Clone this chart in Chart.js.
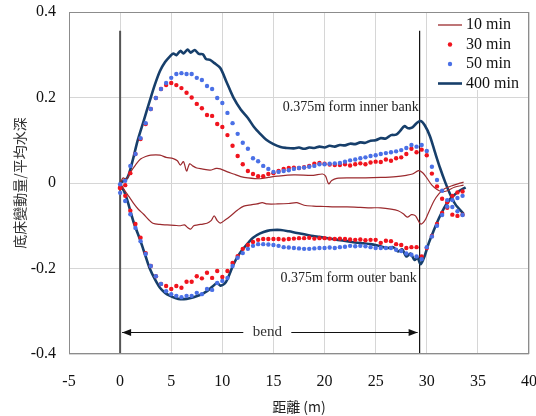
<!DOCTYPE html>
<html>
<head>
<meta charset="utf-8">
<script src="https://cdn.jsdelivr.net/npm/chart.js@4"></script>
<style>
  body { margin: 0; background: #fff; }
</style>
</head>
<body>
<canvas id="bedChart" width="536" height="416"></canvas>
<script>
// x positions of measured points (m)
const dotX = [0,0.5,1,1.5,2,2.5,3,3.5,4,4.5,5,5.5,6,6.5,7,7.5,8,8.5,9,9.5,
  10,10.5,11,11.5,12,12.5,13,13.5,14,14.5,15,15.5,16,16.5,17,17.5,18,18.5,19,19.5,
  20,20.5,21,21.5,22,22.5,23,23.5,24,24.5,25,25.5,26,26.5,27,27.5,28,28.5,29,29.5,
  30,30.5,31,31.5,32,32.5,33,33.5];

// 30 min
const min30Inner = [-0.012,-0.005,0.023,0.068,0.103,0.138,0.173,0.199,0.220,0.229,
  0.234,0.229,0.222,0.211,0.200,0.185,0.175,0.159,0.157,0.138,
  0.131,0.112,0.087,0.063,0.044,0.028,0.021,0.016,0.016,0.021,
  0.023,0.028,0.033,0.035,0.036,0.035,0.037,0.040,0.045,0.047,
  0.045,0.043,0.042,0.042,0.044,0.041,0.044,0.046,0.044,0.048,
  0.050,0.049,0.055,0.052,0.058,0.060,0.068,0.080,0.072,0.078,
  0.065,0.022,-0.008,-0.037,-0.058,-0.074,-0.077,-0.074];
const min30Outer = [-0.010,-0.030,-0.065,-0.096,-0.128,-0.164,-0.194,-0.218,-0.236,-0.241,
  -0.248,-0.241,-0.245,-0.231,-0.231,-0.218,-0.223,-0.210,-0.222,-0.206,
  -0.220,-0.206,-0.187,-0.171,-0.154,-0.145,-0.138,-0.133,-0.131,-0.131,
  -0.131,-0.131,-0.132,-0.131,-0.130,-0.129,-0.129,-0.128,-0.130,-0.129,
  -0.129,-0.130,-0.131,-0.130,-0.131,-0.132,-0.133,-0.132,-0.134,-0.133,
  -0.133,-0.140,-0.135,-0.136,-0.143,-0.145,-0.152,-0.150,-0.150,-0.172,
  -0.152,-0.124,-0.096,-0.070,-0.045,-0.030,-0.022,-0.020];

// 50 min
const min50Inner = [-0.003,0.005,0.040,0.068,0.105,0.140,0.173,0.199,0.220,0.234,
  0.246,0.255,0.257,0.255,0.255,0.246,0.241,0.227,0.220,0.199,
  0.187,0.164,0.140,0.115,0.094,0.080,0.058,0.051,0.040,0.033,
  0.026,0.026,0.028,0.030,0.033,0.035,0.036,0.038,0.040,0.044,
  0.044,0.045,0.046,0.047,0.050,0.053,0.055,0.058,0.060,0.063,
  0.065,0.068,0.070,0.072,0.074,0.077,0.082,0.089,0.085,0.089,
  0.075,0.038,0.007,-0.018,-0.040,-0.056,-0.066,-0.075];
const min50Outer = [-0.023,-0.042,-0.073,-0.105,-0.136,-0.166,-0.194,-0.218,-0.236,-0.253,
  -0.260,-0.264,-0.267,-0.264,-0.264,-0.257,-0.260,-0.248,-0.250,-0.234,
  -0.229,-0.222,-0.194,-0.175,-0.164,-0.154,-0.147,-0.143,-0.143,-0.144,
  -0.145,-0.147,-0.150,-0.151,-0.152,-0.153,-0.154,-0.154,-0.153,-0.152,
  -0.152,-0.151,-0.152,-0.150,-0.149,-0.147,-0.148,-0.147,-0.148,-0.150,
  -0.152,-0.152,-0.152,-0.152,-0.156,-0.159,-0.165,-0.168,-0.172,-0.178,
  -0.150,-0.125,-0.100,-0.075,-0.055,-0.040,-0.035,-0.030];

// 400 min
const min400InnerX = [0,0.7,1.2,1.7,2.3,2.9,3.4,3.9,4.4,4.9,5.2,5.5,5.9,6.2,6.6,6.9,7.3,7.7,8.1,8.4,
  8.8,9.2,9.8,10.4,11.1,11.8,12.5,13.1,13.7,14.3,15,15.7,16.3,17,17.5,18,18.5,19,19.5,20,
  20.5,21,21.5,22,22.5,23,23.5,24,24.5,25,25.5,26,26.5,27,27.4,27.8,28.2,28.6,29,29.4,
  29.8,30.3,30.8,31.3,31.8,32.3,32.8,33.6];
const min400Inner = [0,0.012,0.05,0.098,0.145,0.192,0.23,0.262,0.283,0.297,0.303,0.299,0.309,0.303,0.312,0.305,0.311,0.302,0.301,0.29,
  0.288,0.281,0.269,0.237,0.199,0.172,0.152,0.131,0.115,0.101,0.091,0.084,0.082,0.081,0.083,0.08,0.083,0.082,0.085,0.083,
  0.087,0.085,0.089,0.088,0.092,0.091,0.095,0.094,0.099,0.1,0.105,0.104,0.112,0.113,0.122,0.133,0.128,0.13,0.14,0.145,
  0.135,0.11,0.072,0.035,0.002,-0.027,-0.05,-0.072];
const min400OuterX = [0,0.4,0.7,1.3,2,2.5,2.9,3.4,3.9,4.4,4.9,5.4,5.9,6.5,7.2,7.8,8.5,9,9.5,9.8,
  10.2,10.5,11.1,11.6,12.1,12.6,13,13.7,14.4,15,15.7,16.5,17.3,18,18.9,19.5,20.5,21.3,22.2,23,
  23.8,24.5,25.3,26.2,26.7,27.2,27.6,28,28.4,28.8,29.1,29.4,29.8,30.2,30.7,31.2,31.7,32.2,32.6,33.2,33.8];
const min400Outer = [-0.003,-0.02,-0.04,-0.09,-0.136,-0.172,-0.2,-0.225,-0.245,-0.257,-0.264,-0.269,-0.272,-0.271,-0.267,-0.262,-0.253,-0.243,-0.234,-0.24,
  -0.236,-0.225,-0.19,-0.168,-0.152,-0.138,-0.128,-0.118,-0.112,-0.11,-0.11,-0.113,-0.117,-0.12,-0.124,-0.126,-0.13,-0.133,-0.136,-0.139,
  -0.141,-0.143,-0.147,-0.152,-0.15,-0.16,-0.155,-0.172,-0.165,-0.18,-0.175,-0.19,-0.17,-0.14,-0.11,-0.082,-0.058,-0.04,-0.03,-0.018,-0.01];

// 10 min
const min10InnerX = [0,0.3,0.6,1,1.5,2,2.5,3,3.9,4.5,5.2,5.6,5.9,6.2,6.5,6.8,7.1,7.5,8,8.8,
  9.4,9.8,10.5,11.1,11.8,12.5,13.7,14.5,15.4,17,18.9,19.8,20.1,20.4,20.7,21.2,22.5,24,25.5,27,
  28,28.6,29.2,29.6,30,30.5,31,31.5,32,32.7,33.6];
const min10Inner = [0,0.012,0.008,0.025,0.042,0.056,0.062,0.065,0.065,0.06,0.057,0.052,0.042,0.05,0.028,0.045,0.04,0.035,0.033,0.03,
  0.034,0.033,0.026,0.021,0.015,0.012,0.01,0.013,0.016,0.019,0.018,0.021,0.016,-0.002,0.006,0.011,0.012,0.012,0.013,0.015,
  0.018,0.021,0.029,0.024,0.012,-0.005,-0.015,-0.02,-0.018,-0.01,-0.005];
const min10OuterX = [0,0.3,0.7,1.3,1.8,2.3,2.8,3.2,3.9,4.6,5.3,5.9,6.3,6.6,6.9,7.2,7.6,8.1,8.5,8.9,
  9.2,9.5,9.8,10.3,10.8,11.5,12.1,12.8,13.4,13.9,14.4,15.4,16.5,17.3,18,18.9,20,21,22.2,23.5,
  24.5,25.5,26.5,27.2,27.7,28.1,28.5,28.9,29.4,29.8,30.1,30.7,31.2,31.7,32.5,33.6];
const min10Outer = [0,-0.012,-0.026,-0.047,-0.062,-0.073,-0.086,-0.094,-0.097,-0.098,-0.099,-0.1,-0.098,-0.104,-0.108,-0.1,-0.098,-0.096,-0.094,-0.088,
  -0.077,-0.088,-0.094,-0.086,-0.077,-0.063,-0.054,-0.051,-0.049,-0.046,-0.049,-0.049,-0.048,-0.046,-0.052,-0.054,-0.055,-0.056,-0.056,-0.057,
  -0.058,-0.058,-0.061,-0.065,-0.072,-0.08,-0.074,-0.077,-0.096,-0.088,-0.073,-0.042,-0.025,-0.014,-0.006,0.002];

const seriesNames = ["10 min", "30 min", "50 min", "400 min"];
const bendStart = 0, bendEnd = 29.3;

const SERIF = '"Liberation Serif", "Times New Roman", serif';
const CJK = '"Noto Sans CJK TC", "Noto Sans CJK SC", sans-serif';
const C10 = "#9b2a2e", C30 = "#f0141e", C50 = "#4a70e6", C400 = "#173f6b";

function pts(xs, ys) {
    return xs.map(function (x, i) { return { x: x, y: ys[i] }; });
}

function lineSet(data, color, width, order) {
    return { data: data, showLine: true, borderColor: color, borderWidth: width,
        pointRadius: 0, tension: 0.3, fill: false, order: order };
}
function dotSet(data, color, order) {
    return { data: data, showLine: false, backgroundColor: color, borderColor: color,
        borderWidth: 0, pointRadius: 2.2, order: order };
}

const extras = {
    id: "extras",
    afterDatasetsDraw(chart) {
        const ctx = chart.ctx, a = chart.chartArea;
        const xs = chart.scales.x, ys = chart.scales.y;
        ctx.save();
        // plot frame
        ctx.strokeStyle = "#8c8c8c";
        ctx.lineWidth = 1;
        ctx.strokeRect(a.left + 0.5, a.top + 0.5, a.right - a.left - 1, a.bottom - a.top - 1);

        // bank notes
        ctx.fillStyle = "#222";
        ctx.font = "14px " + SERIF;
        ctx.textBaseline = "middle";
        ctx.textAlign = "left";
        ctx.fillText("0.375m form inner bank", xs.getPixelForValue(15.9), ys.getPixelForValue(0.176));
        ctx.fillText("0.375m form outer bank", xs.getPixelForValue(15.7), ys.getPixelForValue(-0.223));

        // bend arrow
        const by = Math.round(ys.getPixelForValue(-0.349)) + 0.5;
        const bx1 = xs.getPixelForValue(bendStart) + 2, bx2 = xs.getPixelForValue(bendEnd) - 2;
        const tx = xs.getPixelForValue(14.4);
        ctx.strokeStyle = "#111";
        ctx.lineWidth = 1;
        ctx.beginPath();
        ctx.moveTo(bx1, by); ctx.lineTo(tx - 24, by);
        ctx.moveTo(tx + 24, by); ctx.lineTo(bx2, by);
        ctx.stroke();
        ctx.fillStyle = "#111";
        ctx.beginPath();
        ctx.moveTo(bx1, by); ctx.lineTo(bx1 + 9, by - 3.5); ctx.lineTo(bx1 + 9, by + 3.5); ctx.closePath();
        ctx.moveTo(bx2, by); ctx.lineTo(bx2 - 9, by - 3.5); ctx.lineTo(bx2 - 9, by + 3.5); ctx.closePath();
        ctx.fill();
        ctx.fillStyle = "#333";
        ctx.font = "15px " + SERIF;
        ctx.textAlign = "center";
        ctx.fillText("bend", tx, by);

        // legend
        ctx.fillStyle = "#fff";
        ctx.fillRect(a.right - 98, a.top + 1, 97, 77);
        const lx = a.right - 91;
        ctx.font = "16px " + SERIF;
        ctx.textAlign = "left";
        seriesNames.forEach(function (name, i) {
            const yy = a.top + 13 + i * 19.5;
            if (i === 0 || i === 3) {
                ctx.strokeStyle = i === 0 ? C10 : C400;
                ctx.lineWidth = i === 0 ? 1.3 : 2.6;
                ctx.beginPath(); ctx.moveTo(lx, yy); ctx.lineTo(lx + 24, yy); ctx.stroke();
            } else {
                ctx.fillStyle = i === 1 ? C30 : C50;
                ctx.beginPath(); ctx.arc(lx + 12, yy, 2.2, 0, Math.PI * 2); ctx.fill();
            }
            ctx.fillStyle = "#111";
            ctx.fillText(name, lx + 28, yy);
        });
        ctx.restore();
    }
};

document.addEventListener("DOMContentLoaded", function () {
    const ctx = document.getElementById("bedChart").getContext("2d");
    new Chart(ctx, {
        type: "scatter",
        data: {
            datasets: [
                dotSet(pts(dotX, min50Inner), C50, 1),
                dotSet(pts(dotX, min50Outer), C50, 1),
                dotSet(pts(dotX, min30Inner), C30, 2),
                dotSet(pts(dotX, min30Outer), C30, 2),
                lineSet(pts(min10InnerX, min10Inner), C10, 1.2, 3),
                lineSet(pts(min10OuterX, min10Outer), C10, 1.2, 3),
                lineSet(pts(min400InnerX, min400Inner), C400, 2.6, 4),
                lineSet(pts(min400OuterX, min400Outer), C400, 2.6, 4),
                lineSet([{ x: bendStart, y: 0.356 }, { x: bendStart, y: -0.4 }], "#555", 2, 5),
                lineSet([{ x: bendEnd, y: 0.356 }, { x: bendEnd, y: -0.4 }], "#111", 1.2, 5)
            ]
        },
        options: {
            responsive: false,
            animation: false,
            layout: { padding: { top: 12, right: 7, left: 0, bottom: 0 } },
            plugins: { legend: { display: false }, tooltip: { enabled: false } },
            scales: {
                x: {
                    type: "linear", min: -5, max: 40,
                    afterFit: function (s) { s.height = 62; s.paddingLeft = 0; s.paddingRight = 0; },
                    border: { display: false },
                    grid: { color: "#d6d6d6", drawTicks: false },
                    ticks: { stepSize: 5, padding: 18, color: "#111", font: { family: SERIF, size: 16 } },
                    title: { display: true, text: "距離 (m)", color: "#222",
                        font: { family: CJK, size: 14 }, padding: { top: 0, bottom: 1 } }
                },
                y: {
                    min: -0.4, max: 0.4,
                    afterFit: function (s) { s.width = 69; s.paddingTop = 0; s.paddingBottom = 0; },
                    border: { display: false },
                    grid: { color: "#d6d6d6", drawTicks: false },
                    ticks: { stepSize: 0.2, padding: 13, color: "#111", font: { family: SERIF, size: 16 },
                        callback: function (v) { return String(Number(v.toFixed(1))); } },
                    title: { display: true, text: "底床變動量/平均水深", color: "#333",
                        font: { family: CJK, size: 14 }, padding: { top: 11, bottom: 0 } }
                }
            }
        },
        plugins: [extras]
    });
});
</script>
</body>
</html>
